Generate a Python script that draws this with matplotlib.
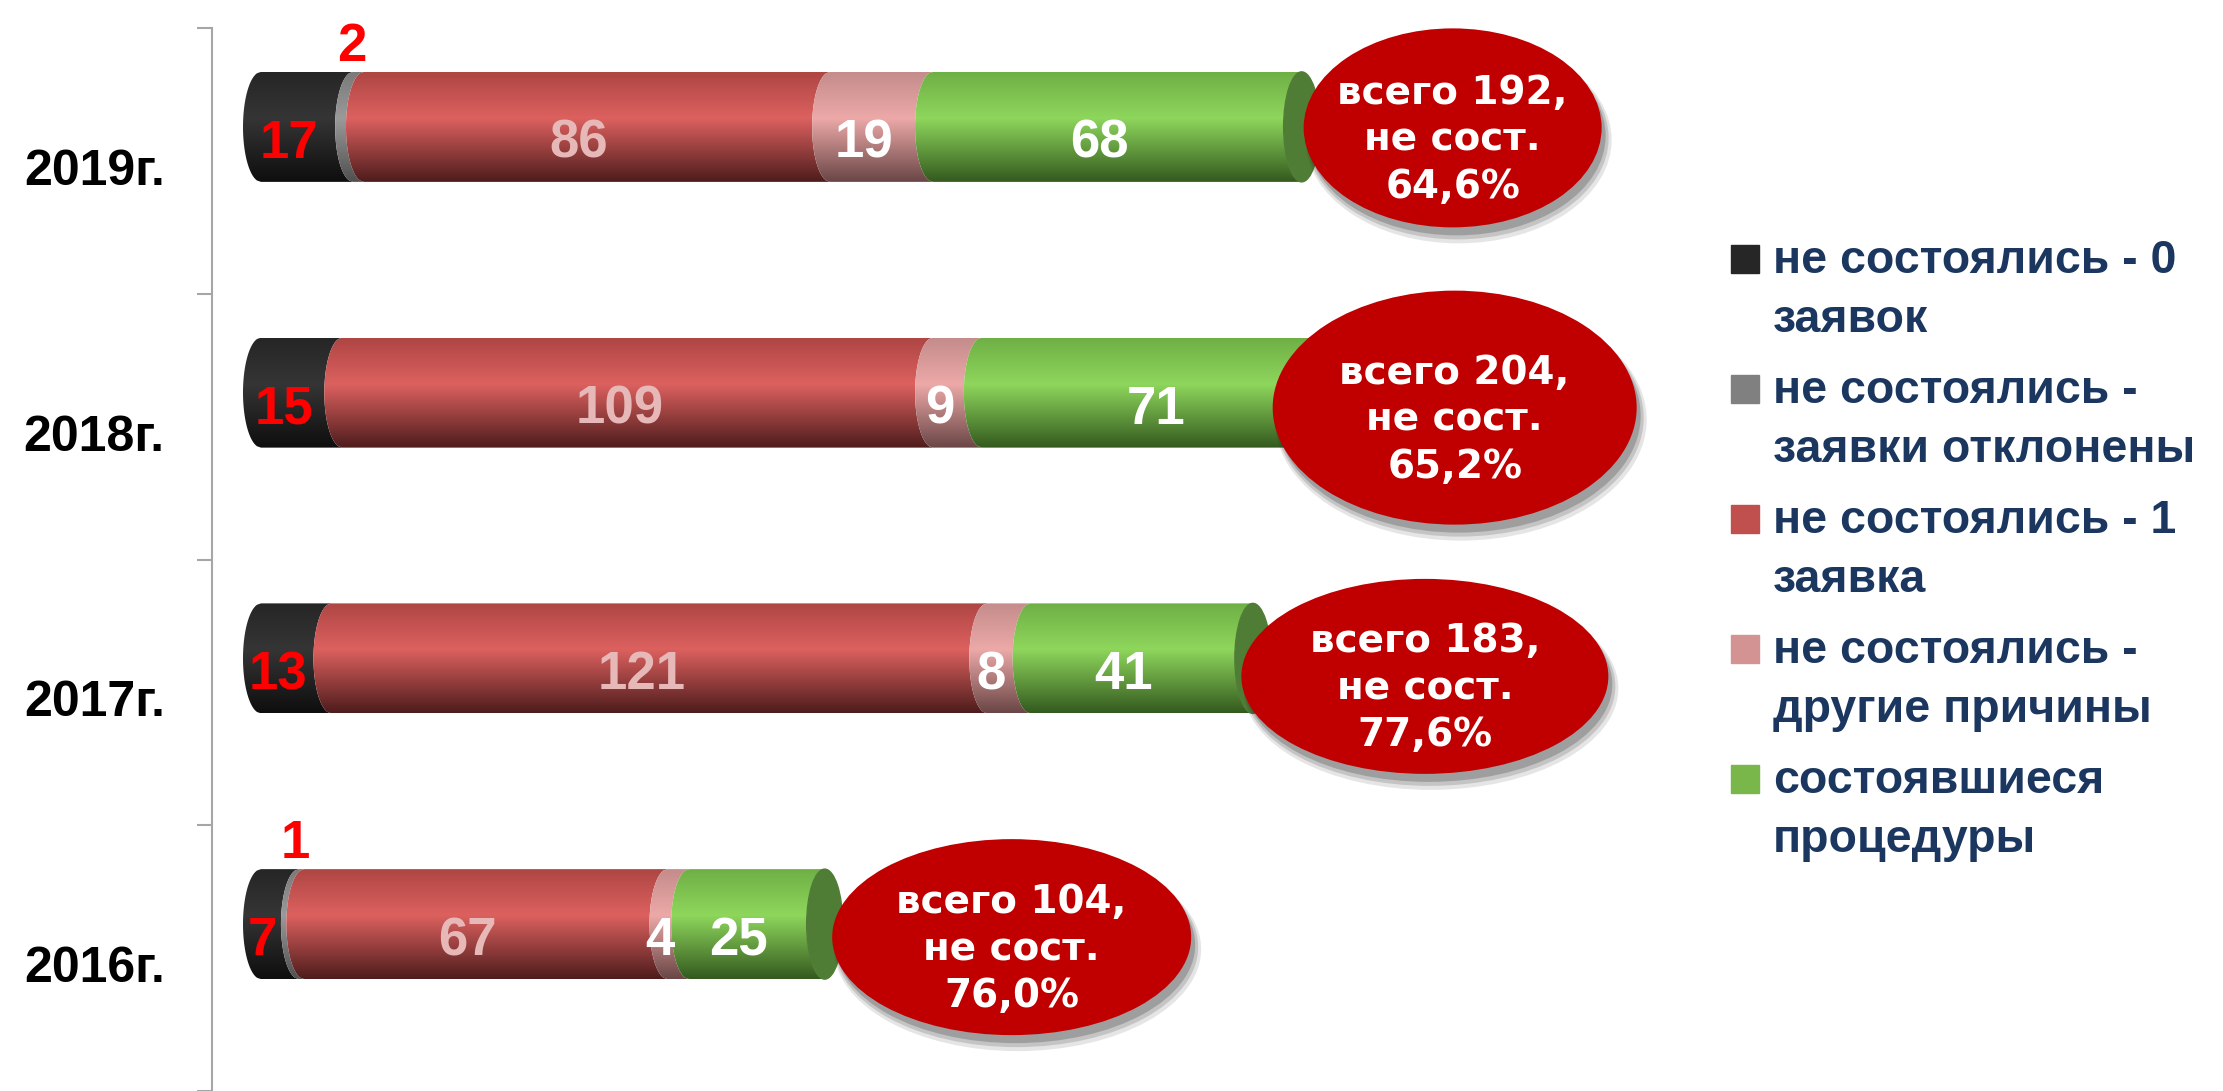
import numpy as np
import matplotlib.pyplot as plt
from matplotlib.patches import Polygon, Ellipse, Rectangle
from matplotlib.colors import LinearSegmentedColormap

# data
years = ['2016г.', '2017г.', '2018г.', '2019г.']
zero_bids = [7, 13, 15, 17]
rejected = [1, 0, 0, 2]
one_bid = [67, 121, 109, 86]
other_reasons = [4, 8, 9, 19]
held = [25, 41, 71, 68]

series = [zero_bids, rejected, one_bid, other_reasons, held]
series_names = ['не состоялись - 0\nзаявок',
                'не состоялись -\nзаявки отклонены',
                'не состоялись - 1\nзаявка',
                'не состоялись -\nдругие причины',
                'состоявшиеся\nпроцедуры']
legend_colors = ['#262626', '#808080', '#C0504D', '#D39392', '#79B74A']
# top, highlight, bottom shades of each cylinder
shades = [('#262626', '#353535', '#0E0E0E'),
          ('#7A7A7A', '#9A9A9A', '#505050'),
          ('#AE4644', '#DC615F', '#4E1C1C'),
          ('#C48C8B', '#ECA9A8', '#6A4646'),
          ('#6FB045', '#8ED65C', '#345A1F')]
label_colors = ['#FF0000', '#FF0000', '#E6B9B8', 'white', 'white']
face_color = '#507D35'

W, H = 2223, 1091
PX = 5.42      # pixels per unit along x
PY = 265.75    # pixels per category
fig = plt.figure(figsize=(W / 100, H / 100), dpi=100)
ax = fig.add_axes([212 / W, 0, 1 - 212 / W, 1063 / H])
x0 = -(261 - 212) / PX
ax.set_xlim(x0, x0 + (W - 212) / PX)
ax.set_ylim(-0.5, 3.5)

shift = 34 / PY
bar_h = 110 / PY
a = 18 / PX
ys = np.linspace(1, -1, 80)
arc = np.sqrt(1 - ys ** 2)
grad = np.linspace(0, 1, 200).reshape(-1, 1)

cmaps = [LinearSegmentedColormap.from_list('c%d' % i, [(0, t), (0.42, m), (1, b)])
         for i, (t, m, b) in enumerate(shades)]

for k in range(len(years)):
    yc = k + shift
    left = 0
    for i, vals in enumerate(series):
        v = vals[k]
        if v == 0:
            continue
        right = left + v
        yy = yc + ys * bar_h / 2
        pts = np.concatenate([np.column_stack([right - a * arc, yy]),
                              np.column_stack([left - a * arc[::-1], yy[::-1]])])
        poly = Polygon(pts, closed=True, transform=ax.transData)
        im = ax.imshow(grad, cmap=cmaps[i], aspect='auto', origin='upper',
                       extent=(left - a - 1, right + 1, yc - bar_h / 2, yc + bar_h / 2),
                       interpolation='bilinear', zorder=2)
        im.set_clip_path(poly)
        if i == 1:
            ax.text((left + right) / 2 - 1.2, yc + bar_h / 2 + 0.094, str(v),
                    color=label_colors[i], fontsize=38, fontweight='bold',
                    family='Liberation Sans', ha='center', va='center', zorder=5)
        else:
            ax.text((left + right) / 2 - a, yc - 0.064, str(v),
                    color=label_colors[i], fontsize=38, fontweight='bold',
                    family='Liberation Sans', ha='center', va='center', zorder=5)
        left = right
    ax.add_patch(Ellipse((left, yc), 2 * a, bar_h, color=face_color, zorder=3))

# bubbles with totals
bubble_dx = [187, 172, 88, 151]
bubble_dy = [13, 18, 15, 1]
bubble_w = [359, 367, 364, 298]
bubble_h = [196, 195, 234, 199]
for k in range(len(years)):
    total = sum(s[k] for s in series)
    pct = (total - held[k]) / total * 100
    cx = total + bubble_dx[k] / PX
    cy = k + shift - bubble_dy[k] / PY
    for j, al in enumerate([0.12, 0.18, 0.25]):
        ax.add_patch(Ellipse((cx + (6 - j) / PX, cy - (12 - 2 * j) / PY),
                             (bubble_w[k] + 8 - 4 * j) / PX, (bubble_h[k] + 8 - 4 * j) / PY,
                             color='#303030', alpha=al, lw=0, zorder=6))
    ax.add_patch(Ellipse((cx, cy), bubble_w[k] / PX, bubble_h[k] / PY,
                         color='#C00000', lw=0, zorder=7))
    txt = 'всего %d,\nне сост.\n%s%%' % (total, ('%.1f' % pct).replace('.', ','))
    ax.text(cx, cy - 12 / PY, txt, color='white', fontsize=28, fontweight='bold',
            family='DejaVu Sans', ha='center', va='center', linespacing=1.3, zorder=8)

# axes styling
for sp in ['top', 'right', 'bottom']:
    ax.spines[sp].set_visible(False)
ax.spines['left'].set_color('#A6A6A6')
ax.spines['left'].set_linewidth(1.5)
ax.set_xticks([])
ax.set_yticks([-0.5, 0.5, 1.5, 2.5, 3.5])
ax.set_yticklabels([])
ax.tick_params(axis='y', which='major', length=11, width=1.5, color='#A6A6A6')
ax.set_yticks([k - 6 / PY for k in range(len(years))], years, minor=True)
ax.tick_params(axis='y', which='minor', length=0, pad=34)
for lab in ax.get_yticklabels(minor=True):
    lab.set_fontsize(36)
    lab.set_fontweight('bold')
    lab.set_family('Liberation Sans')

# legend
for i, name in enumerate(series_names):
    top = 245 + i * 130
    fig.patches.append(Rectangle((1731 / W, 1 - (top + 28) / H), 28 / W, 28 / H,
                                 transform=fig.transFigure, color=legend_colors[i]))
    for j, line in enumerate(name.split('\n')):
        fig.text(1773 / W, 1 - (top + 28 + j * 59) / H, line, color='#1B3760',
                 fontsize=33.5, fontweight='bold', family='Liberation Sans',
                 va='baseline', ha='left')

fig.savefig('out.png', dpi=100)
